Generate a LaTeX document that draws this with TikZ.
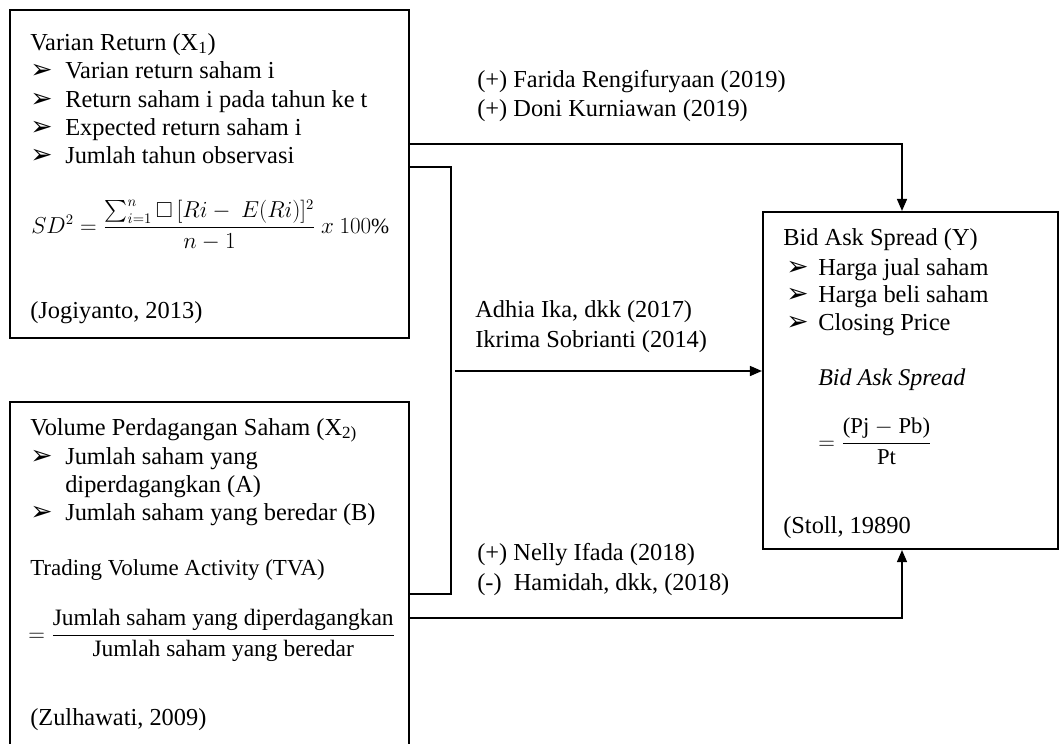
\documentclass[tikz,border=0pt]{standalone}
\usepackage{amsmath,amssymb}
\usepackage{fontspec}
\setmainfont{Liberation Serif}
\newfontfamily\dejavu{DejaVu Sans}
\usetikzlibrary{arrows.meta,fit}
\newcommand{\bul}[1]{\makebox[#1][l]{\raisebox{-0.5pt}{\dejavu\fontsize{20}{20}\selectfont ➢}}}
\begin{document}
\begin{tikzpicture}[x=0.75pt,y=-0.75pt,
  box/.style={draw, line width=1.6pt, inner sep=0pt},
  conn/.style={line width=1.1pt},
  tip/.style={-{Triangle[length=9pt,width=7.5pt]}},
  txt/.style={anchor=base west, inner sep=0pt, font=\fontsize{18.3}{21}\selectfont},
  eq/.style={anchor=base west, inner sep=0pt}]
\clip (0,0) rectangle (1060,743);
\fill[white] (0,0) rectangle (1060,743);

% boxes
\node[box, fit={(10,10) (409,338)}] (b1) {};
\node[box, fit={(10,402) (409,770)}] (b2) {};
\node[box, fit={(763,212) (1058,549)}] (b3) {};

% box 1 content
\node[txt] (t1title) at (30,50) {Varian Return (X\textsubscript{1})};
\node[txt] (t1a) at (30,78) {\bul{26.25pt}Varian return saham i};
\node[txt] (t1b) at (30,107) {\bul{26.25pt}Return saham i pada tahun ke t};
\node[txt] (t1c) at (30,135) {\bul{26.25pt}Expected return saham i};
\node[txt] (t1d) at (30,163) {\bul{26.25pt}Jumlah tahun observasi};
\node[eq] (f1) at (31,233) {\fontsize{16.3}{20}\selectfont
  $SD^2 = \dfrac{\sum_{i=1}^{n} \square\,[Ri-\ E(Ri)]^2}{n-1}\ x\ 100\%$};
\node[txt] (t1src) at (30,318) {(Jogiyanto, 2013)};

% box 2 content
\node[txt] (t2title) at (30,435) {Volume Perdagangan Saham (X\textsubscript{2)}};
\node[txt] (t2a) at (30,464) {\bul{26.25pt}Jumlah saham yang};
\node[txt] (t2a2) at (65,492) {diperdagangkan (A)};
\node[txt] (t2b) at (30,520) {\bul{26.25pt}Jumlah saham yang beredar (B)};
\node[eq] (tva) at (30,575) {\fontsize{17.2}{20}\selectfont Trading Volume Activity (TVA)};
\node[eq] (f2) at (28,641) {\fontsize{17.6}{20}\selectfont
  $= \dfrac{\text{Jumlah saham yang diperdagangkan}}{\text{Jumlah saham yang beredar}}$};
\node[txt] (t2src) at (30,725) {(Zulhawati, 2009)};

% box 3 content
\node[txt] (t3title) at (783,245) {Bid Ask Spread (Y)};
\node[txt] (t3a) at (786,275) {\bul{24pt}Harga jual saham};
\node[txt] (t3b) at (786,302) {\bul{24pt}Harga beli saham};
\node[txt] (t3c) at (786,330) {\bul{24pt}Closing Price};
\node[eq] (bas) at (818,385) {\fontsize{18}{20}\selectfont\itshape Bid Ask Spread};
\node[eq] (f3) at (818,449) {\fontsize{17}{20}\selectfont
  $= \dfrac{\text{(Pj $-$ Pb)}}{\text{Pt}}$};
\node[txt] (t3src) at (783,533) {(Stoll, 19890};

% connector labels
\node[txt] (la1) at (477,87) {(+) Farida Rengifuryaan (2019)};
\node[txt] (la2) at (477,116) {(+) Doni Kurniawan (2019)};
\node[txt] (lb1) at (475,317) {Adhia Ika, dkk (2017)};
\node[txt] (lb2) at (475,347) {Ikrima Sobrianti (2014)};
\node[txt] (lc1) at (477,560) {(+) Nelly Ifada (2018)};
\node[txt] (lc2) at (477,590) {(-)\ \ Hamidah, dkk, (2018)};

% connector bends
\coordinate (ct) at (902,144);
\coordinate (c1) at (451,167);
\coordinate (c2) at (451,594);
\coordinate (c3) at (455,371);
\coordinate (cb) at (902,618);

\draw[conn,tip] (b1.east |- ct) -- (ct) -- (ct |- b3.north);
\draw[conn] (b1.east |- c1) -- (c1) -- (c2) -- (b2.east |- c2);
\draw[conn,tip] (c3) -- (c3 -| b3.west);
\draw[conn,tip] (b2.east |- cb) -- (cb) -- (cb |- b3.south);
\end{tikzpicture}
\end{document}
